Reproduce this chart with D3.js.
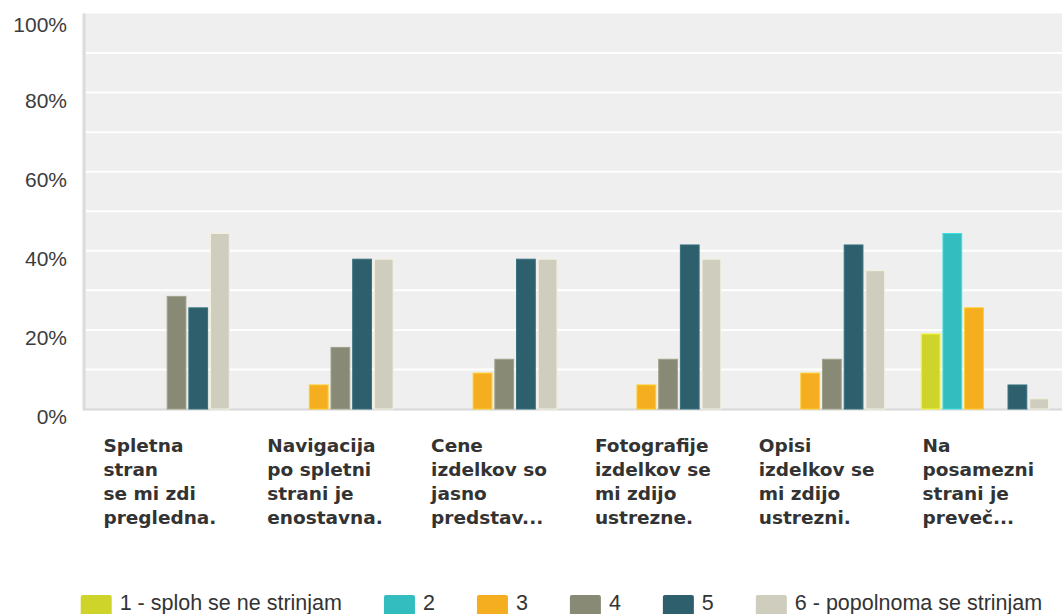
<!DOCTYPE html>
<html>
<head>
<meta charset="utf-8">
<script src="https://cdn.jsdelivr.net/npm/d3@7"></script>
<style>
  html, body { margin: 0; padding: 0; background: #fff; }
  svg { display: block; }
</style>
</head>
<body>
<svg id="chart" width="1062" height="614"></svg>
<script>
// Survey statements (already wrapped / shortened as shown under the axis)
const categories = [
  ["Spletna", "stran", "se mi zdi", "pregledna."],
  ["Navigacija", "po spletni", "strani je", "enostavna."],
  ["Cene", "izdelkov so", "jasno", "predstav..."],
  ["Fotografije", "izdelkov se", "mi zdijo", "ustrezne."],
  ["Opisi", "izdelkov se", "mi zdijo", "ustrezni."],
  ["Na", "posamezni", "strani je", "preveč..."]
];

// Answer scale
const seriesNames = ["1 - sploh se ne strinjam", "2", "3", "4", "5", "6 - popolnoma se strinjam"];
const seriesColors = ["#cfd42b", "#33bdbf", "#f5ae1f", "#898a76", "#2e5f6c", "#cfcdbd"];

// Share of answers per statement, in percent
const s1 = [0, 0, 0, 0, 0, 19.1];
const s2 = [0, 0, 0, 0, 0, 44.5];
const s3 = [0, 6.2, 9.2, 6.2, 9.2, 25.7];
const s4 = [28.6, 15.7, 12.7, 12.7, 12.7, 0];
const s5 = [25.7, 38.0, 38.0, 41.6, 41.6, 6.2];
const s6 = [44.5, 38.0, 38.0, 38.0, 35.1, 2.7];
const seriesValues = [s1, s2, s3, s4, s5, s6];

const yTicks = [0, 20, 40, 60, 80, 100];
const yTickLabels = ["0%", "20%", "40%", "60%", "80%", "100%"];
const gridValues = [10, 20, 30, 40, 50, 60, 70, 80, 90];

const W = 1062, H = 614;
const plot = { left: 84, top: 13.5, bottom: 409, right: 1067 };

const svg = d3.select("#chart");

const x0 = d3.scaleBand()
  .domain(d3.range(categories.length))
  .range([plot.left, plot.right]);

const x1 = d3.scaleBand()
  .domain(d3.range(seriesNames.length))
  .range([17.6, 145.8])
  .paddingInner(0.09);

const y = d3.scaleLinear()
  .domain([0, 100])
  .range([plot.bottom, plot.top]);

// plot background
svg.append("rect")
  .attr("x", plot.left)
  .attr("y", plot.top)
  .attr("width", W - plot.left)
  .attr("height", plot.bottom - plot.top)
  .attr("fill", "#efefef");

// horizontal grid
svg.append("g")
  .selectAll("line")
  .data(gridValues)
  .join("line")
  .attr("x1", plot.left + 2)
  .attr("x2", W)
  .attr("y1", d => y(d))
  .attr("y2", d => y(d))
  .attr("stroke", "#ffffff")
  .attr("stroke-width", 2);

// axis lines
svg.append("line")
  .attr("x1", plot.left).attr("x2", plot.left)
  .attr("y1", plot.top).attr("y2", plot.bottom + 1)
  .attr("stroke", "#dcdcdc").attr("stroke-width", 3);
svg.append("line")
  .attr("x1", plot.left - 1).attr("x2", W)
  .attr("y1", plot.bottom + 0.5).attr("y2", plot.bottom + 0.5)
  .attr("stroke", "#d8d8d8").attr("stroke-width", 2);

// y axis labels
const yAxis = d3.axisLeft(y)
  .tickValues(yTicks)
  .tickFormat((d, i) => yTickLabels[i])
  .tickSize(0)
  .tickPadding(17);

const yg = svg.append("g")
  .attr("transform", `translate(${plot.left},0)`)
  .call(yAxis);
yg.select(".domain").remove();
yg.selectAll("text")
  .attr("y", d => d === 100 ? 11 : 8)
  .attr("font-family", "'Liberation Sans', Arial, sans-serif")
  .attr("font-size", 21)
  .attr("fill", "#3c3c3c");

// bars
const barData = [];
seriesValues.forEach((vals, si) => {
  vals.forEach((v, ci) => {
    if (v > 0) barData.push({ si, ci, v });
  });
});

svg.append("g")
  .selectAll("rect")
  .data(barData)
  .join("rect")
  .attr("x", d => x0(d.ci) + x1(d.si) + 0.5)
  .attr("y", d => y(d.v) + 0.5)
  .attr("width", x1.bandwidth() - 1)
  .attr("height", d => y(0) - y(d.v) - 0.5)
  .attr("fill", d => seriesColors[d.si])
  .attr("stroke", d => d3.color(seriesColors[d.si]).brighter(0.45))
  .attr("stroke-width", 1);

// category labels: left-aligned line blocks centred under each group
const catG = svg.append("g")
  .attr("font-family", "'DejaVu Sans', Verdana, sans-serif")
  .attr("font-weight", "bold")
  .attr("font-size", 18.5)
  .attr("fill", "#333333");

categories.forEach((lines, ci) => {
  const t = catG.append("text").attr("y", 452);
  lines.forEach((ln, li) => {
    t.append("tspan")
      .attr("x", 0)
      .attr("dy", li === 0 ? 0 : 24)
      .text(ln);
  });
  const w = t.node().getBBox().width;
  const center = x0(ci) + x0.bandwidth() / 2;
  const left = center - Math.max(w, 125) / 2;
  t.selectAll("tspan").attr("x", left);
});

// legend
const legend = svg.append("g")
  .attr("font-family", "'Liberation Sans', Arial, sans-serif")
  .attr("font-size", 21.5)
  .attr("fill", "#333333");

let lx = 80.7;
seriesNames.forEach((name, i) => {
  legend.append("rect")
    .attr("x", lx)
    .attr("y", 595)
    .attr("width", 31)
    .attr("height", 21)
    .attr("rx", 2)
    .attr("fill", seriesColors[i]);
  const t = legend.append("text")
    .attr("x", lx + 39)
    .attr("y", 609.5)
    .text(name);
  lx += 39 + t.node().getComputedTextLength() + 42;
});
</script>
</body>
</html>
